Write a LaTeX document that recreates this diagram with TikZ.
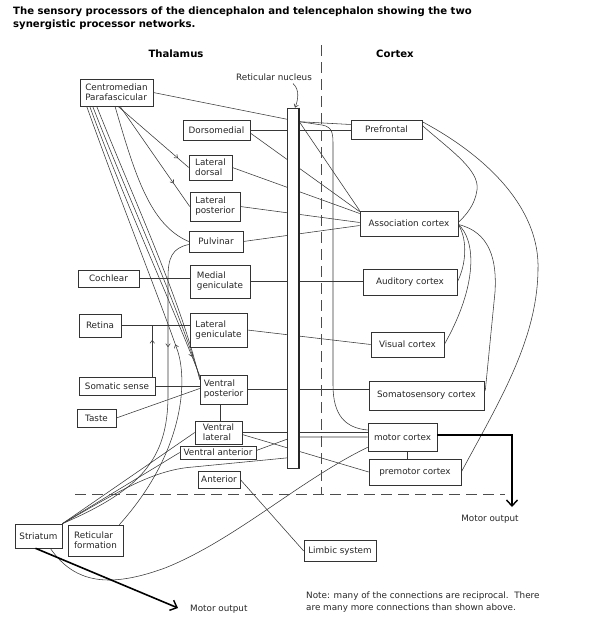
\documentclass[tikz,border=0pt]{standalone}
\usepackage{fontspec}
\setmainfont{DejaVu Sans}
\usetikzlibrary{arrows.meta,decorations.markings,calc}
\pgfdeclarelayer{back}
\pgfdeclarelayer{bg}
\pgfsetlayers{back,bg,main}
\begin{document}
\begin{tikzpicture}[x=1pt,y=-1pt,
  box/.style={draw=black!80, line width=0.6pt, fill=white, inner sep=1pt, align=left, font=\fontsize{8.8}{10}\selectfont, text=black!85},
  conn/.style={draw=black!78, line width=0.55pt},
  thickarrow/.style={draw=black, line width=1.6pt, -{Straight Barb[length=6pt,width=11pt,line width=1.4pt]}},
  midarr/.style={postaction={decorate}, decoration={markings, mark=at position #1 with {\arrow{Straight Barb[length=3pt,width=4.5pt,line width=0.55pt]}}}},
  midarrrev/.style={postaction={decorate}, decoration={markings, mark=at position #1 with {\arrowreversed{Straight Barb[length=3pt,width=4.5pt,line width=0.55pt]}}}},
  lbl/.style={font=\fontsize{8.8}{11.5}\selectfont, text=black!85, inner sep=0pt},
  hdr/.style={font=\fontsize{10.1}{13}\selectfont\bfseries, inner sep=0pt},
  sep/.style={draw=black!70, line width=0.6pt, dash pattern=on 11pt off 6pt},
]
\useasboundingbox (0,0) rectangle (597,632);
\begin{pgfonlayer}{back}
\fill[white] (0,0) rectangle (597,632);
\end{pgfonlayer}

% headings
\node[hdr, anchor=base west] (title1) at (13,14) {The sensory processors of the diencephalon and telencephalon showing the two};
\node[hdr, anchor=base west] (title2) at (13,27.5) {synergistic processor networks.};
\node[hdr] (thal) at (176,54) {Thalamus};
\node[hdr] (cort) at (395,54) {Cortex};

% separators
\draw[sep] (321,45) -- (321,494);
\draw[sep] (75,494) -- (505,494);

% thalamic nuclei and inputs
\node[box, minimum width=73pt, minimum height=27pt] (cm) at (116.5,92.5) {Centromedian\\Parafascicular};
\node[box, minimum width=67pt, minimum height=20pt] (dm) at (216.5,130) {Dorsomedial};
\node[box, minimum width=43pt, minimum height=25pt] (ld) at (210.5,167.5) {Lateral\\dorsal};
\node[box, minimum width=50pt, minimum height=29pt] (lp) at (215,206.5) {Lateral\\posterior};
\node[box, minimum width=54pt, minimum height=21pt] (pul) at (216,241.5) {Pulvinar};
\node[box, minimum width=61pt, minimum height=17pt] (coch) at (108.5,278.5) {Cochlear};
\node[box, minimum width=60pt, minimum height=33pt] (mg) at (220,281.5) {Medial\\geniculate};
\node[box, minimum width=42pt, minimum height=23pt] (ret) at (100,325.5) {Retina};
\node[box, minimum width=57pt, minimum height=34pt] (lg) at (218.5,330) {Lateral\\geniculate};
\node[box, minimum width=76pt, minimum height=18pt] (som) at (117,386) {Somatic sense};
\node[box, minimum width=39pt, minimum height=18pt] (taste) at (96.5,418) {Taste};
\node[box, minimum width=47pt, minimum height=29pt] (vp) at (223.5,389.5) {Ventral\\posterior};
\node[box, minimum width=47pt, minimum height=23pt] (vl) at (218.5,432.5) {Ventral\\lateral};
\node[box, minimum width=76pt, minimum height=13pt, inner sep=0pt] (va) at (218,452.5) {Ventral anterior};
\node[box, minimum width=42pt, minimum height=17pt, inner sep=0pt] (ant) at (219,479.5) {Anterior};
\node[box, minimum width=47pt, minimum height=24pt] (str) at (38.5,536) {Striatum};
\node[box, minimum width=55pt, minimum height=31pt] (rf) at (95.5,540.5) {Reticular\\formation};
\node[box, minimum width=72pt, minimum height=21pt] (limb) at (340,551) {Limbic system};

% cortex
\node[box, minimum width=71pt, minimum height=19pt] (pf) at (386.5,129.5) {Prefrontal};
\node[box, minimum width=98pt, minimum height=25pt] (assoc) at (409,223.5) {Association cortex};
\node[box, minimum width=94pt, minimum height=26pt] (aud) at (410,282) {Auditory cortex};
\node[box, minimum width=73pt, minimum height=25pt] (vis) at (407.5,344.5) {Visual cortex};
\node[box, minimum width=115pt, minimum height=29pt] (soma) at (426.5,395.5) {Somatosensory cortex};
\node[box, minimum width=69pt, minimum height=28pt] (mot) at (402.5,437) {motor cortex};
\node[box, minimum width=92pt, minimum height=26pt] (pmot) at (415,472) {premotor cortex};

% reticular nucleus bar
\node[draw=black!80, line width=0.6pt, fill=white, minimum width=12pt, minimum height=360pt, inner sep=0pt] (bar) at (293,288) {};
\draw[black!85, line width=1.5pt] ($(bar.north east)+(-0.4,0)$) -- ($(bar.south east)+(-0.4,0)$);
\node[lbl] (rn) at (274,77) {Reticular nucleus};
\draw[conn, -{Straight Barb[length=3pt,width=4.5pt]}] ($(rn.south east)+(-19,3)$) .. controls (300,90) and (298,100) .. ($(bar.north)+(2,0)$);

\coordinate (fan) at ($(bar.north east)+(0,14)$);
\coordinate (sv) at ($(som.north east)+(-3,0)$);
\coordinate (vlt) at ($(vl.north)+(1.5,0)$);
\coordinate (mb) at ($(mot.south)+(4.5,0)$);
\coordinate (mo1) at (512,507);
\coordinate (mo2) at (178,608);

\begin{pgfonlayer}{bg}
% CM projections
\draw[conn] (cm.east) -- (fan);
\draw[conn] (fan) -- ($(pf.west)+(0,-5)$);
\draw[conn] (fan) -- (assoc.north west);
\draw[conn] (fan) -- (322,125) .. controls (333,127) and (333,134) .. (333,146) -- (333,385) .. controls (333,415) and (345,428) .. ($(mot.west)+(0,-7)$);
\draw[conn, midarr=0.85] ($(cm.south)+(1.5,0)$) -- (ld.west);
\draw[conn, midarr=0.77] ($(cm.south)+(3.5,0)$) -- (lp.west);
\draw[conn] ($(cm.south)+(-1.5,0)$) .. controls (135,175) and (150,225) .. (pul.west);
\draw[conn, midarrrev=254pt] ($(cm.south west)+(7,0)$) .. controls (120,200) and (160,300) .. (178,352) .. controls (188,385) and (182,455) .. ($(rf.north east)+(-4,0)$);
\draw[conn, midarr=0.93] ($(cm.south west)+(10,0)$) .. controls (124,200) and (170,300) .. ($(vp.north west)+(0,1)$);
\draw[conn] ($(cm.south west)+(13,0)$) .. controls (129,200) and (176,300) .. ($(vp.north west)+(0,3)$);
\draw[conn] ($(cm.south west)+(17,0)$) .. controls (134,200) and (181,300) .. ($(vp.north west)+(0,5)$);
% pulvinar descending
\draw[conn, midarr=113pt] ($(pul.west)+(0,3)$) .. controls (172,248) and (168,258) .. (168,278) -- (168,395) .. controls (168,460) and (140,490) .. (str.north east);
% thalamus to cortex
\draw[conn] (dm.east) -- (dm.east -| pf.west);
\draw[conn] ($(dm.east)+(0,3)$) -- ($(assoc.north west)+(0,1)$);
\draw[conn] (ld.east) -- ($(assoc.west)+(0,-10)$);
\draw[conn] (lp.east) -- ($(assoc.west)+(0,-1)$);
\draw[conn] (pul.east) -- ($(assoc.west)+(0,2)$);
\draw[conn] (mg.east) -- (mg.east -| aud.west);
\draw[conn] (lg.east) -- (vis.west);
\draw[conn] (vp.east) -- (vp.east -| soma.west);
\draw[conn] (vl.east) -- (vl.east -| mot.west);
\draw[conn] ($(vl.east)+(0,2)$) -- (pmot.west);
\draw[conn] ($(va.east)+(0,-2)$) -- (bar.center |- mot.west) -- (mot.west);
% sensory inputs
\draw[conn] (coch.east) -- (coch.east -| mg.west);
\draw[conn] (ret.east) -- (ret.east -| lg.west);
\draw[conn] (som.east) -- (som.east -| vp.west);
\draw[conn, midarr=0.72] (sv) -- (sv |- ret.east);
\draw[conn] (taste.east) -- ($(vp.west)+(0,-1)$);
\draw[conn] (vlt) -- (vlt |- vp.south);
\draw[conn] (mb) -- (mb |- pmot.north);
\draw[conn] (ant.east) -- (limb.west);
% striatum
\draw[conn] (str.north east) -- (vl.west);
\draw[conn] (str.north east) -- (va.west);
\draw[conn] (str.north east) .. controls (110,497) and (150,470) .. (193,467) -- ($(bar.south)+(0,-11)$);
\draw[conn] ($(str.south east)+(-12,0)$) .. controls (75,584) and (110,588) .. (165,568) .. controls (235,540) and (300,480) .. ($(mot.south west)+(0,-4)$);
% cortico-cortical
\draw[conn] ($(pf.east)+(0,-4)$) .. controls (450,150) and (480,170) .. (477,190) .. controls (475,205) and (466,215) .. ($(assoc.east)+(0,-1)$);
\draw[conn] ($(pf.north east)+(0,2)$) .. controls (490,158) and (540,210) .. (538,270) .. controls (537,340) and (500,400) .. (pmot.east);
\draw[conn] ($(assoc.east)+(0,1)$) .. controls (468,240) and (466,265) .. (aud.east);
\draw[conn] ($(assoc.east)+(0,1)$) .. controls (476,240) and (478,285) .. (vis.east);
\draw[conn] ($(assoc.east)+(0,1)$) .. controls (490,232) and (497,260) .. (495,292) -- ($(soma.east)+(1,-5)$);
\end{pgfonlayer}

% motor outputs
\draw[thickarrow] ($(mot.east)+(0,-2)$) -| (mo1);
\node[lbl] (mo1l) at (490,519) {Motor output};
\draw[thickarrow] ($(str.south)+(-3,0)$) -- (mo2);
\node[lbl, anchor=west] (mo2l) at (190,609) {Motor output};
\node[lbl, anchor=north west, align=left] (note) at (306,592) {Note: many of the connections are reciprocal.\ \ There\\are many more connections than shown above.};
\end{tikzpicture}
\end{document}
